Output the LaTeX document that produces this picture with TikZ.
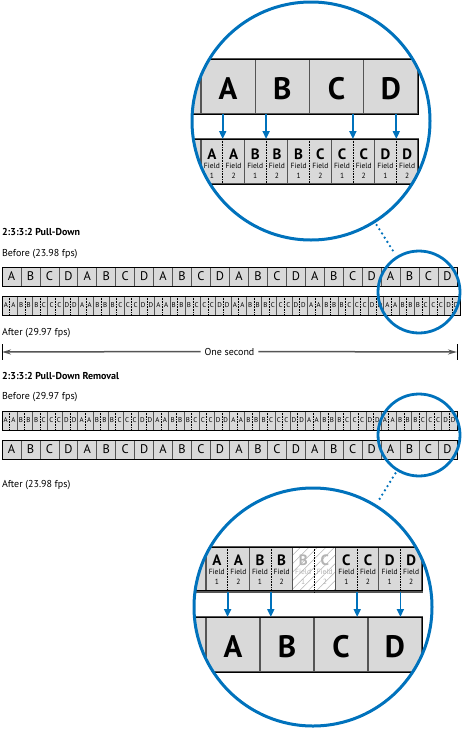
\documentclass[tikz,border=0pt]{standalone}
\usepackage{fontspec}
\setmainfont{PT Sans}
\usetikzlibrary{arrows.meta,calc,patterns.meta}
\definecolor{ringblue}{RGB}{0,114,188}
\definecolor{cellgray}{RGB}{217,217,217}
\definecolor{sepgray}{RGB}{85,85,85}
\definecolor{ghostgray}{RGB}{180,180,180}

\begin{document}
\begin{tikzpicture}[
    x=1pt, y=-1pt,
    every node/.style={inner sep=0pt, outer sep=0pt},
    heading/.style={anchor=base west, font=\fontsize{10}{12}\selectfont\bfseries},
    caption/.style={anchor=base west, font=\fontsize{10}{12}\selectfont},
    filmcell/.style={draw=sepgray, fill=cellgray, line width=0.7pt, anchor=north west,
      minimum width=18.958pt, minimum height=19pt, font=\fontsize{12.5}{12.5}\selectfont},
    videocell/.style={draw=sepgray, fill=cellgray, line width=0.7pt, anchor=north west,
      minimum height=19pt, font=\fontsize{7}{7}\selectfont},
    stripedge/.style={draw=black, line width=0.8pt},
    fielddiv/.style={line width=0.6pt, dash pattern=on 0.7pt off 0.9pt},
    bigframe/.style={draw=sepgray, fill=cellgray, line width=1.2pt, anchor=north west,
      minimum height=55pt, text height=26pt, font=\fontsize{31}{31}\selectfont\bfseries},
    bigvideo/.style={draw=sepgray, fill=cellgray, line width=1.2pt, anchor=north west,
      minimum height=45pt},
    ghostvideo/.style={bigvideo, fill=none,
      pattern={Lines[angle=45,distance=6pt,line width=0.5pt]}, pattern color=ghostgray},
    fieldletter/.style={anchor=base, font=\fontsize{15}{15}\selectfont\bfseries},
    fieldnote/.style={anchor=base, font=\fontsize{7.5}{8}\selectfont},
    pullarrow/.style={draw=ringblue, line width=1.8pt, -{Triangle[length=8pt,width=7pt]}},
    zoomring/.style={circle, draw=ringblue, line width=3pt, minimum size=238pt},
    magring/.style={circle, draw=ringblue, line width=2.8pt, minimum size=82pt},
    zoomlink/.style={draw=ringblue, line width=2.6pt, line cap=round,
      dash pattern=on 0pt off 5pt, shorten <=4pt, shorten >=4pt},
    spanline/.style={draw=sepgray, line width=1.5pt, -{Stealth[length=9pt,width=5pt]}},
    spantick/.style={draw=black, line width=0.8pt}
  ]
    \useasboundingbox (0,0) rectangle (462,729);

    % 2:3:3:2 pull-down
    \node[heading] (pdtitle) at (2,235.5) {2:3:3:2 Pull-Down};
    \node[caption] (pdbefore) at (2,256.5) {Before (23.98 fps)};
    \foreach \g in {0,...,5} {
      \foreach \l [count=\k from 0] in {A,B,C,D}
        \node[filmcell] (pdf\g\k) at ({2+(4*\g+\k)*18.958},267) {\l};
    }
    \draw[stripedge] (2,267) rectangle (457,286);
    \foreach \g in {0,...,5} {
      \foreach \p/\q [count=\k from 0] in {A/A,B/B,B/C,C/C,D/D} {
        \node[videocell, minimum width=15.267pt] (pdv\g\k) at ({2+(5*\g+\k)*15.267},296)
          {\makebox[7.633pt]{\p}\makebox[7.633pt]{\q}};
        \draw[fielddiv] (pdv\g\k.north) -- (pdv\g\k.south);
      }
    }
    \draw[stripedge] (2,296) rectangle (460,315);
    \node[caption] (pdafter) at (2,335) {After (29.97 fps)};

    % one second span
    \coordinate (secl) at (2,352);
    \coordinate (secr) at (457,352);
    \node[caption, anchor=center, inner xsep=4pt] (onesec) at (229.5,351.5) {One second};
    \draw[spanline] (onesec.west) -- (secl);
    \draw[spanline] (onesec.east) -- (secr);
    \draw[spantick] ($(secl)+(0,-8)$) -- ($(secl)+(0,8)$);
    \draw[spantick] ($(secr)+(0,-8)$) -- ($(secr)+(0,8)$);

    % 2:3:3:2 pull-down removal
    \node[heading] (prtitle) at (2,379) {2:3:3:2 Pull-Down Removal};
    \node[caption] (prbefore) at (2,399) {Before (29.97 fps)};
    \foreach \g in {0,...,5} {
      \foreach \p/\q [count=\k from 0] in {A/A,B/B,B/C,C/C,D/D} {
        \node[videocell, minimum width=15.167pt] (prv\g\k) at ({2+(5*\g+\k)*15.167},411)
          {\makebox[7.583pt]{\p}\makebox[7.583pt]{\q}};
        \draw[fielddiv] (prv\g\k.north) -- (prv\g\k.south);
      }
    }
    \draw[stripedge] (2,411) rectangle (457,430);
    \foreach \g in {0,...,5} {
      \foreach \l [count=\k from 0] in {A,B,C,D}
        \node[filmcell] (prf\g\k) at ({2+(4*\g+\k)*18.958},440) {\l};
    }
    \draw[stripedge] (2,440) rectangle (457,459);
    \node[caption] (prafter) at (2,487) {After (23.98 fps)};

    \node[magring] (pdmag) at (419,292) {};
    \node[magring] (prmag) at (419,435) {};

    % top close-up
    \begin{scope}
      \clip (311,121) circle (119pt);
      \node[bigframe, minimum width=54.25pt] (tzf0) at (146.75,59) {};
      \foreach \l [count=\k] in {A,B,C,D}
        \node[bigframe, minimum width=54.25pt] (tzf\k) at ({146.75+\k*54.25},59) {\l};
      \draw[stripedge] (146.75,59) rectangle (418,114);
      \node[bigvideo, minimum width=43.4pt] (tzv0) at (157.6,139) {};
      \draw[fielddiv] (tzv0.north) -- (tzv0.south);
      \foreach \p/\q [count=\k] in {A/A,B/B,B/C,C/C,D/D} {
        \node[bigvideo, minimum width=43.4pt] (tzv\k) at ({157.6+\k*43.4},139) {};
        \draw[fielddiv] (tzv\k.north) -- (tzv\k.south);
        \foreach \f/\l in {1/\p,2/\q} {
          \node[fieldletter] (tzl\k\f) at ($(tzv\k.north west)+({(\f-0.5)*21.7},20)$) {\l};
          \node[fieldnote] (tzn\k\f) at ($(tzv\k.north west)+({(\f-0.5)*21.7},29.5)$) {Field};
          \node[fieldnote] (tzd\k\f) at ($(tzv\k.north west)+({(\f-0.5)*21.7},39)$) {\f};
        }
      }
      \draw[stripedge] (157.6,139) rectangle (418,184);
    \end{scope}
    \foreach \k in {1,2,4,5}
      \draw[pullarrow] (tzv\k.north |- tzf1.south) -- (tzv\k.north);
    \node[zoomring] (tzring) at (311,121) {};

    % bottom close-up
    \begin{scope}
      \clip (313,607) circle (119pt);
      \node[bigvideo, minimum width=43.2pt] (bzv0) at (162.8,547) {};
      \draw[fielddiv] (bzv0.north) -- (bzv0.south);
      \foreach \p/\q/\look/\ink [count=\k] in {A/A/bigvideo/black, B/B/bigvideo/black,
          B/C/ghostvideo/ghostgray, C/C/bigvideo/black, D/D/bigvideo/black} {
        \node[\look, minimum width=43.2pt] (bzv\k) at ({162.8+\k*43.2},547) {};
        \draw[fielddiv] (bzv\k.north) -- (bzv\k.south);
        \foreach \f/\l in {1/\p,2/\q} {
          \node[fieldletter, text=\ink] (bzl\k\f) at ($(bzv\k.north west)+({(\f-0.5)*21.6},18.5)$) {\l};
          \node[fieldnote, text=\ink] (bzn\k\f) at ($(bzv\k.north west)+({(\f-0.5)*21.6},27.5)$) {Field};
          \node[fieldnote, text=\ink] (bzd\k\f) at ($(bzv\k.north west)+({(\f-0.5)*21.6},37)$) {\f};
        }
      }
      \draw[stripedge] (162.8,547) rectangle (422,590);
      \node[bigframe, minimum width=54pt] (bzf0) at (152,617) {};
      \foreach \l [count=\k] in {A,B,C,D}
        \node[bigframe, minimum width=54pt] (bzf\k) at ({152+\k*54},617) {\l};
      \draw[stripedge] (152,617) rectangle (422,672);
    \end{scope}
    \foreach \k in {1,2,4,5}
      \draw[pullarrow] (bzv\k.south) -- (bzv\k.south |- bzf1.north);
    \node[zoomring] (bzring) at (313,607) {};

    \draw[zoomlink] (tzring) -- (pdmag);
    \draw[zoomlink] (prmag) -- (bzring);
\end{tikzpicture}
\end{document}
